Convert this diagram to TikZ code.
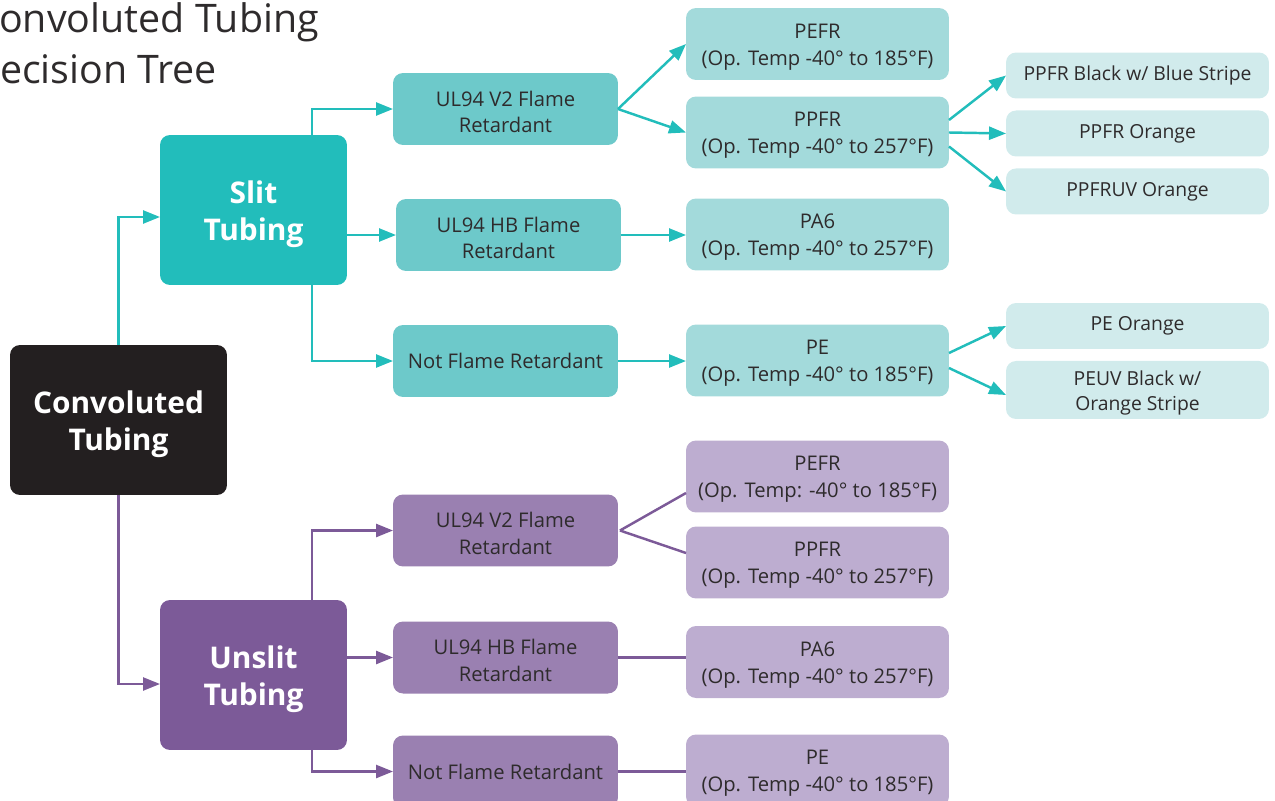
\documentclass[tikz,border=0pt]{standalone}
\usepackage{fontspec}
\setmainfont{Open Sans}
\usetikzlibrary{positioning,arrows.meta}

\definecolor{rootc}{HTML}{231F20}
\definecolor{txtc}{HTML}{2E2B2C}
\definecolor{tealA}{HTML}{22BDBB}
\definecolor{tealB}{HTML}{6DC9CA}
\definecolor{tealC}{HTML}{A3DADB}
\definecolor{tealD}{HTML}{D1EBEC}
\definecolor{purpA}{HTML}{7C5A98}
\definecolor{purpB}{HTML}{9A80B1}
\definecolor{purpC}{HTML}{BDADD0}

\tikzset{
  box/.style={rounded corners=0.2cm, outer sep=0pt, inner sep=2pt, align=center,
    text=txtc, font=\fontsize{11.5}{15.3}\selectfont},
  lowered/.style={text height=#1},
  rootbox/.style={box, fill=rootc, text=white, minimum width=4.34cm, minimum height=3cm,
    font=\bfseries\fontsize{17}{21}\selectfont, lowered=38.5pt},
  typebox/.style={rootbox, minimum width=3.74cm},
  lvltwo/.style={box, minimum width=4.5cm, minimum height=1.44cm},
  lvlthree/.style={box, minimum width=5.26cm, minimum height=1.44cm, lowered=27pt},
  lvlfour/.style={box, fill=tealD, minimum width=5.26cm, minimum height=0.92cm,
    font=\fontsize{11}{14.2}\selectfont},
  tline/.style={draw=tealA, line width=1.4pt},
  tarrow/.style={tline, -{Triangle[length=0.34cm, width=0.26cm]}},
  pline/.style={draw=purpA, line width=1.4pt},
  parrow/.style={pline, -{Triangle[length=0.34cm, width=0.26cm]}},
  title/.style={anchor=base west, inner sep=0pt, text=txtc, font=\fontsize{22.4}{29}\selectfont}
}

\begin{document}
\begin{tikzpicture}[x=0.02cm, y=-0.02cm]
\path[use as bounding box, clip] (0,0) rectangle (1275,801);

\node[title] (t1) at (-26,32) {Convoluted Tubing};
\node[title] (t2) at (-29,83) {Decision Tree};

\node[rootbox] (root) at (118.5,420) {Convoluted\\Tubing};
\node[typebox, fill=tealA] (slit) at (253.5,210) {Slit\\Tubing};
\node[typebox, fill=purpA] (unslit) at (253.5,675) {Unslit\\Tubing};

\node[lvltwo, fill=tealB, lowered=27.4pt] (sv2) at (505.5,109) {UL94 V2 Flame\\Retardant};
\node[lvltwo, fill=tealB, lowered=27.4pt] (shb) at (508.5,235) {UL94 HB Flame\\Retardant};
\node[lvltwo, fill=tealB] (snf) at (505.5,361) {Not Flame Retardant};
\node[lvltwo, fill=purpB, lowered=27.4pt] (uv2) at (505.5,530.5) {UL94 V2 Flame\\Retardant};
\node[lvltwo, fill=purpB, lowered=27.4pt] (uhb) at (505.5,657.5) {UL94 HB Flame\\Retardant};
\node[lvltwo, fill=purpB] (unf) at (505.5,771.5) {Not Flame Retardant};

\node[lvlthree, fill=tealC] (spefr) at (817.5,44) {PEFR\\(Op. Temp -40° to 185°F)};
\node[lvlthree, fill=tealC] (sppfr) at (817.5,132.5) {PPFR\\(Op. Temp -40° to 257°F)};
\node[lvlthree, fill=tealC] (spa6) at (817.5,234.5) {PA6\\(Op. Temp -40° to 257°F)};
\node[lvlthree, fill=tealC] (spe) at (817.5,360.5) {PE\\(Op. Temp -40° to 185°F)};
\node[lvlthree, fill=purpC] (upefr) at (817.5,476.5) {PEFR\\(Op. Temp: -40° to 185°F)};
\node[lvlthree, fill=purpC] (uppfr) at (817.5,562.5) {PPFR\\(Op. Temp -40° to 257°F)};
\node[lvlthree, fill=purpC] (upa6) at (817.5,662) {PA6\\(Op. Temp -40° to 257°F)};
\node[lvlthree, fill=purpC] (upe) at (817.5,770.5) {PE\\(Op. Temp -40° to 185°F)};

\node[lvlfour] (ppblue) at (1137.5,75.5) {PPFR Black w/ Blue Stripe};
\node[lvlfour, below=0.24cm of ppblue] (ppor) {PPFR Orange};
\node[lvlfour, below=0.24cm of ppor] (ppuv) {PPFRUV Orange};
\node[lvlfour] (peor) at (1137.5,326) {PE Orange};
\node[lvlfour, below=0.24cm of peor, minimum height=1.16cm, lowered=26pt] (peuv) {PEUV Black w/\\Orange Stripe};

% slit side
\draw[tarrow] (root.north) |- ([yshift=-0.14cm]slit.west);
\draw[tarrow] ([xshift=1.17cm]slit.north) |- (sv2.west);
\draw[tarrow] (slit.east |- shb.west) -- (shb.west);
\draw[tarrow] ([xshift=1.17cm]slit.south) |- (snf.west);
\draw[tarrow] (sv2.east) -- (spefr.west);
\draw[tarrow] (sv2.east) -- (sppfr.west);
\draw[tarrow] (shb.east) -- (shb.east -| spa6.west);
\draw[tarrow] (snf.east) -- (snf.east -| spe.west);
\draw[tarrow] ([yshift=0.25cm]sppfr.east) -- (ppblue.west);
\draw[tarrow] (sppfr.east) -- (ppor.west);
\draw[tarrow] ([yshift=-0.28cm]sppfr.east) -- (ppuv.west);
\draw[tarrow] ([yshift=0.15cm]spe.east) -- (peor.west);
\draw[tarrow] ([yshift=-0.15cm]spe.east) -- ([yshift=-0.1cm]peuv.west);

% unslit side
\draw[parrow] (root.south) |- ([yshift=-0.18cm]unslit.west);
\draw[parrow] ([xshift=1.17cm]unslit.north) |- (uv2.west);
\draw[parrow] (unslit.east |- uhb.west) -- (uhb.west);
\draw[parrow] ([xshift=1.17cm]unslit.south) |- (unf.west);
\draw[pline] ([xshift=0.04cm]uv2.east) -- ([yshift=-0.33cm]upefr.west);
\draw[pline] ([xshift=0.04cm]uv2.east) -- ([yshift=0.19cm]uppfr.west);
\draw[pline] (uhb.east) -- (uhb.east -| upa6.west);
\draw[pline] (unf.east) -- (unf.east -| upe.west);
\end{tikzpicture}
\end{document}
